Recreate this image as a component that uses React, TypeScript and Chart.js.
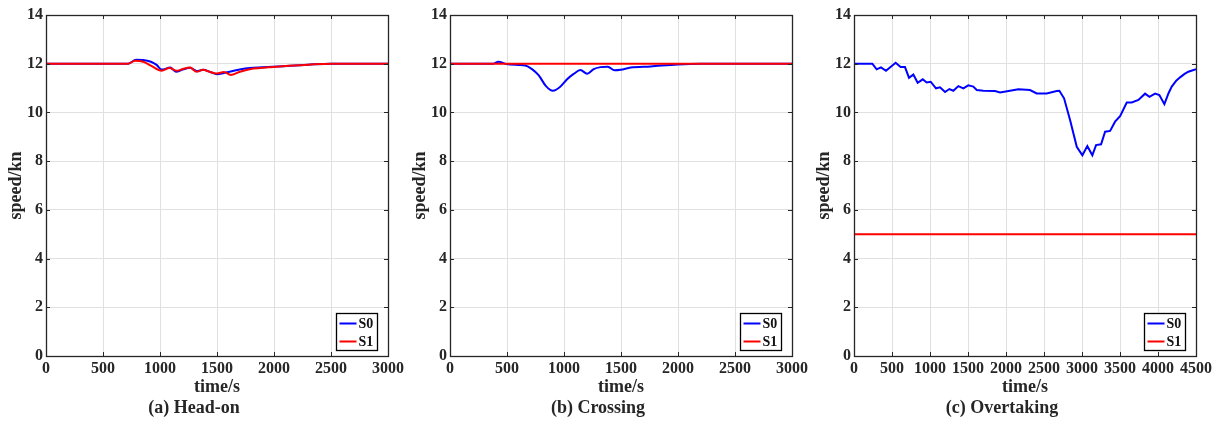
import React, { useEffect, useRef } from 'react';
import { Chart, ChartOptions, Plugin, registerables } from 'chart.js';

Chart.register(...registerables);

// (a) Head-on
const headOnTimeS0 = [0, 720, 790, 850, 920, 970, 1015, 1090, 1140, 1200, 1263, 1322, 1380, 1440, 1500, 1560, 1620, 1700, 1790, 1900, 2080, 2300, 2500, 3000];
const headOnS0 = [12, 12, 12.16, 12.15, 12.08, 11.95, 11.76, 11.84, 11.67, 11.76, 11.83, 11.7, 11.75, 11.66, 11.57, 11.62, 11.68, 11.76, 11.82, 11.85, 11.9, 11.96, 12, 12];
const headOnTimeS1 = [0, 720, 781, 854, 920, 1015, 1082, 1146, 1200, 1263, 1322, 1374, 1440, 1497, 1561, 1620, 1702, 1819, 1950, 2080, 2300, 2500, 3000];
const headOnS1 = [12, 12, 12.12, 12.08, 11.92, 11.71, 11.82, 11.71, 11.78, 11.84, 11.67, 11.75, 11.66, 11.6, 11.66, 11.54, 11.67, 11.8, 11.85, 11.9, 11.96, 12, 12];

// (b) Crossing
const crossingTimeS0 = [0, 380, 425, 493, 600, 660, 719, 777, 842, 903, 962, 1027, 1085, 1144, 1203, 1261, 1320, 1384, 1443, 1496, 1584, 1760, 1995, 2200, 2500, 3000];
const crossingS0 = [12, 12, 12.08, 11.99, 11.95, 11.93, 11.78, 11.53, 11.08, 10.89, 11.03, 11.36, 11.58, 11.74, 11.59, 11.78, 11.86, 11.88, 11.73, 11.75, 11.84, 11.89, 11.97, 12, 12, 12];
const crossingTimeS1 = [0, 3000];
const crossingS1 = [12, 12];

// (c) Overtaking
const overtakingTimeS0 = [0, 241, 298, 355, 421, 548, 614, 671, 724, 781, 838, 904, 956, 1009, 1079, 1132, 1198, 1255, 1307, 1373, 1439, 1504, 1570, 1615, 1702, 1856, 1921, 2053, 2162, 2316, 2404, 2536, 2667, 2702, 2764, 2843, 2931, 3005, 3070, 3136, 3185, 3251, 3304, 3370, 3435, 3501, 3589, 3655, 3742, 3830, 3887, 3962, 4018, 4084, 4140, 4181, 4240, 4290, 4350, 4400, 4500];
const overtakingS0 = [12, 12, 11.77, 11.85, 11.71, 12.04, 11.86, 11.86, 11.42, 11.56, 11.22, 11.36, 11.23, 11.26, 10.99, 11.03, 10.84, 10.96, 10.89, 11.08, 10.99, 11.11, 11.06, 10.92, 10.89, 10.88, 10.82, 10.89, 10.95, 10.92, 10.78, 10.78, 10.88, 10.89, 10.58, 9.69, 8.59, 8.24, 8.62, 8.24, 8.66, 8.69, 9.21, 9.24, 9.62, 9.85, 10.41, 10.41, 10.51, 10.77, 10.64, 10.77, 10.71, 10.34, 10.8, 11.06, 11.3, 11.44, 11.58, 11.67, 11.78];
const overtakingTimeS1 = [0, 4500];
const overtakingS1 = [5, 5];

const seriesNames = ['S0', 'S1'];
const seriesColors = ['#0000ff', '#ff0000'];
const yTicks = [0, 2, 4, 6, 8, 10, 12, 14];

const FONT = '"Liberation Serif", "Times New Roman", serif';
const FRAME = '#262626';

const toPoints = (t: number[], v: number[]) => t.map((x, i) => ({ x, y: v[i] }));

// box around the axes, inward ticks and a legend in the lower right corner
const framePlugin: Plugin<'line'> = {
    id: 'matlabFrame',
    afterDraw(chart) {
        const { ctx, chartArea } = chart;
        const { left, right, top, bottom } = chartArea;
        const xs = chart.scales.x;
        const ys = chart.scales.y;
        ctx.save();
        ctx.strokeStyle = FRAME;
        ctx.lineWidth = 1;
        ctx.beginPath();
        xs.ticks.forEach((t) => {
            const px = Math.round(xs.getPixelForValue(t.value)) + 0.5;
            ctx.moveTo(px, bottom);
            ctx.lineTo(px, bottom - 4);
            ctx.moveTo(px, top);
            ctx.lineTo(px, top + 4);
        });
        ys.ticks.forEach((t) => {
            const py = Math.round(ys.getPixelForValue(t.value)) + 0.5;
            ctx.moveTo(left, py);
            ctx.lineTo(left + 4, py);
            ctx.moveTo(right, py);
            ctx.lineTo(right - 4, py);
        });
        ctx.stroke();
        ctx.lineWidth = 1.3;
        ctx.strokeRect(Math.round(left) + 0.5, Math.round(top) + 0.5, Math.round(right - left), Math.round(bottom - top));

        // legend
        const w = 41;
        const h = 37;
        const bx = Math.round(right - 11 - w) + 0.5;
        const by = Math.round(bottom - 6 - h) + 0.5;
        ctx.fillStyle = '#ffffff';
        ctx.fillRect(bx, by, w, h);
        ctx.strokeStyle = '#000000';
        ctx.lineWidth = 1.3;
        ctx.strokeRect(bx, by, w, h);
        ctx.font = `bold 14px ${FONT}`;
        ctx.textBaseline = 'middle';
        ctx.textAlign = 'left';
        seriesNames.forEach((name, i) => {
            const ry = by + 10 + i * 18;
            ctx.strokeStyle = seriesColors[i];
            ctx.lineWidth = 2;
            ctx.beginPath();
            ctx.moveTo(bx + 3, ry);
            ctx.lineTo(bx + 20, ry);
            ctx.stroke();
            ctx.fillStyle = '#111111';
            ctx.fillText(name, bx + 22, ry + 1);
        });
        ctx.restore();
    },
};

interface PanelProps {
    timeS0: number[];
    s0: number[];
    timeS1: number[];
    s1: number[];
    xMax: number;
    caption: string;
    left: number;
    width: number;
    smooth: boolean;
}

const Panel: React.FC<PanelProps> = ({ timeS0, s0, timeS1, s1, xMax, caption, left, width, smooth }) => {
    const canvasRef = useRef<HTMLCanvasElement | null>(null);

    useEffect(() => {
        if (!canvasRef.current) return;
        const old = Chart.getChart(canvasRef.current);
        if (old) old.destroy();

        const tickFont = { family: FONT, size: 16, weight: 'bold' as const, lineHeight: 1.2 };
        const titleFont = { family: FONT, size: 18, weight: 'bold' as const, lineHeight: 1.2 };
        const mode = smooth ? 'monotone' : 'default';

        const chart = new Chart(canvasRef.current, {
            type: 'line',
            data: {
                datasets: [
                    {
                        label: seriesNames[0],
                        data: toPoints(timeS0, s0),
                        borderColor: seriesColors[0],
                        borderWidth: 2,
                        pointRadius: 0,
                        tension: 0,
                        cubicInterpolationMode: mode,
                        order: 1,
                    },
                    {
                        label: seriesNames[1],
                        data: toPoints(timeS1, s1),
                        borderColor: seriesColors[1],
                        borderWidth: 2,
                        pointRadius: 0,
                        tension: 0,
                        cubicInterpolationMode: mode,
                        order: 0,
                    },
                ],
            },
            options: {
                animation: false,
                responsive: true,
                maintainAspectRatio: false,
                layout: { padding: { top: 15, left: 0, right: width - 46 - 342, bottom: 7.4 } },
                scales: {
                    x: {
                        type: 'linear',
                        min: 0,
                        max: xMax,
                        border: { display: false },
                        grid: { color: '#e0e0e0', lineWidth: 1, drawTicks: false },
                        ticks: {
                            stepSize: 500,
                            autoSkip: false,
                            maxRotation: 0,
                            padding: 3,
                            color: '#262626',
                            font: tickFont,
                            callback: (v) => String(v),
                        },
                        title: { display: true, text: 'time/s', color: '#262626', font: titleFont, padding: { top: 0, bottom: 0 } },
                        afterFit: (scale) => {
                            scale.height = 42;
                        },
                    },
                    y: {
                        type: 'linear',
                        min: yTicks[0],
                        max: yTicks[yTicks.length - 1],
                        border: { display: false },
                        grid: { color: '#e0e0e0', lineWidth: 1, drawTicks: false },
                        ticks: {
                            stepSize: 2,
                            padding: 3,
                            color: '#262626',
                            font: tickFont,
                            callback: (v) => String(v),
                        },
                        title: { display: true, text: 'speed/kn', color: '#262626', font: titleFont, padding: { top: 6, bottom: 0 } },
                        afterFit: (scale) => {
                            scale.width = 46;
                        },
                    },
                },
                plugins: {
                    legend: { display: false },
                    tooltip: { enabled: false },
                    title: {
                        display: true,
                        position: 'bottom',
                        text: caption,
                        color: '#262626',
                        font: titleFont,
                        padding: { top: 0, bottom: 0 },
                    },
                },
            } as ChartOptions<'line'>,
            plugins: [framePlugin],
        });

        return () => {
            chart.destroy();
        };
    }, [timeS0, s0, timeS1, s1, xMax, caption, width, smooth]);

    return (
        <div style={{ position: 'absolute', left, top: 0, width, height: 427 }}>
            <canvas ref={canvasRef} />
        </div>
    );
};

const App: React.FC = () => {
    return (
        <div style={{ position: 'absolute', left: 0, top: 0, width: 1220, height: 427, background: '#ffffff' }}>
            <Panel timeS0={headOnTimeS0} s0={headOnS0} timeS1={headOnTimeS1} s1={headOnS1} xMax={3000} caption="(a) Head-on" left={0} width={410} smooth />
            <Panel timeS0={crossingTimeS0} s0={crossingS0} timeS1={crossingTimeS1} s1={crossingS1} xMax={3000} caption="(b) Crossing" left={404} width={410} smooth />
            <Panel timeS0={overtakingTimeS0} s0={overtakingS0} timeS1={overtakingTimeS1} s1={overtakingS1} xMax={4500} caption="(c) Overtaking" left={808} width={412} smooth={false} />
        </div>
    );
};

export default App;
